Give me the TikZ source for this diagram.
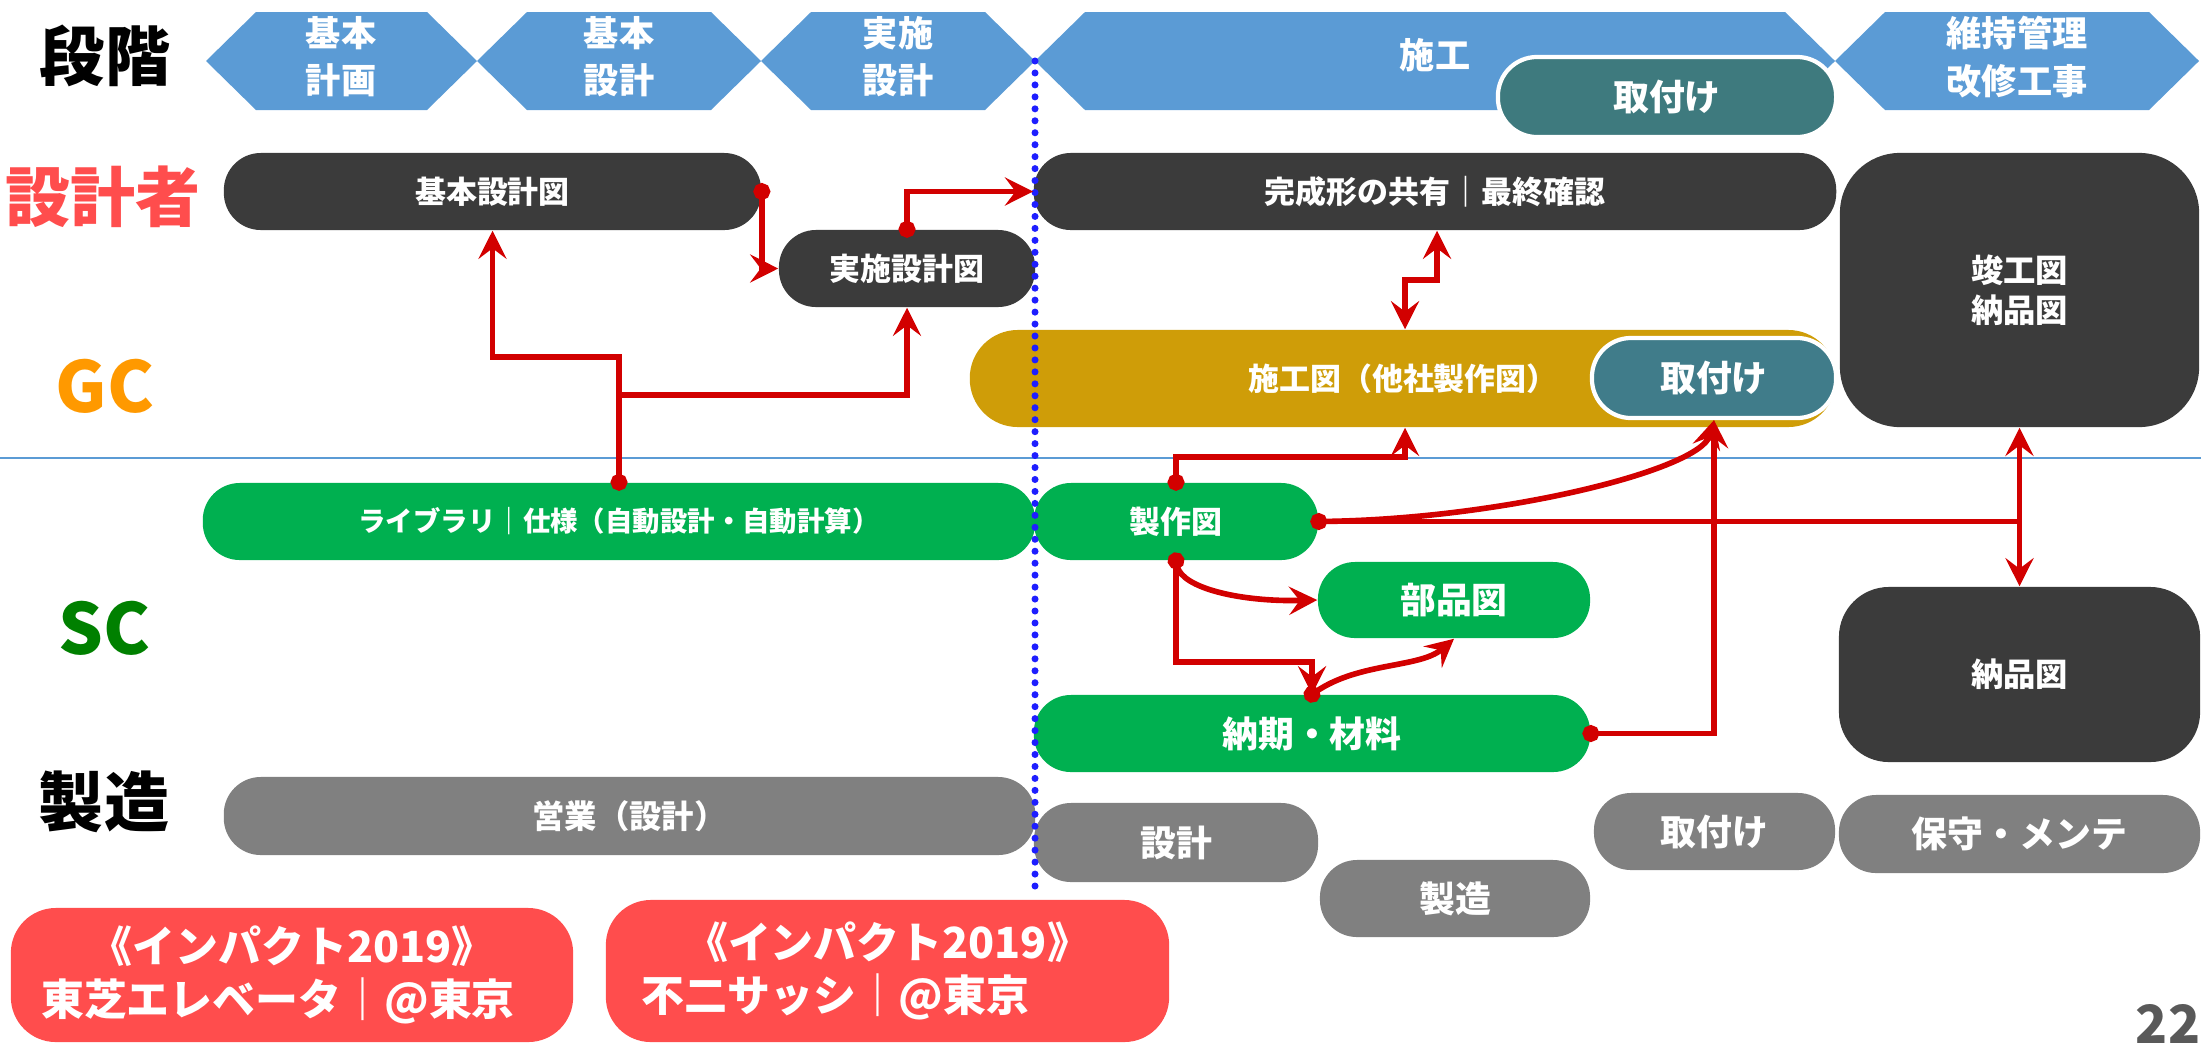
\documentclass[tikz,border=0pt]{standalone}
\usepackage{fontspec}
\setmainfont{Noto Sans CJK JP}
\usetikzlibrary{arrows.meta}

\definecolor{chev}{RGB}{91,155,213}
\definecolor{darkbox}{RGB}{59,59,59}
\definecolor{goldbox}{RGB}{207,157,8}
\definecolor{tealbox}{RGB}{64,124,138}
\definecolor{tealhead}{RGB}{62,122,126}
\definecolor{greenbox}{RGB}{0,176,80}
\definecolor{graybox}{RGB}{128,128,128}
\definecolor{redbox}{RGB}{255,77,77}
\definecolor{linkred}{RGB}{210,0,0}
\definecolor{gcorange}{RGB}{255,153,0}
\definecolor{scgreen}{RGB}{0,128,0}
\definecolor{pagegray}{RGB}{89,89,89}
\definecolor{dotblue}{RGB}{30,30,255}

\newcommand\txtS{\fontsize{8.8pt}{10.5pt}\selectfont\bfseries}
\newcommand\txtL{\fontsize{7.8pt}{9.5pt}\selectfont\bfseries}
\newcommand\txtK{\fontsize{9.2pt}{11.4pt}\selectfont\bfseries}
\newcommand\txtM{\fontsize{10.2pt}{12pt}\selectfont\bfseries}
\newcommand\txtH{\fontsize{10pt}{13.4pt}\selectfont\bfseries}
\newcommand\txtR{\fontsize{12.2pt}{15pt}\selectfont\bfseries}
\newcommand\txtRow{\fontsize{18.5pt}{20pt}\selectfont\bfseries}

\tikzset{
  pill/.style = {rectangle, fill=#1, rounded corners=0.37cm,
                 inner sep=0pt, text=white, align=center, font=\txtS},
  pill/.default = darkbox,
  headtxt/.style = {text=white, align=center, font=\txtH, inner sep=0pt},
  rowtxt/.style = {font=\txtRow, inner sep=0pt},
  conn/.style = {draw=linkred, line width=1.6pt,
                 -{Stealth[length=8pt,width=8pt,inset=3pt]}},
  dconn/.style = {draw=linkred, line width=1.6pt, shorten <=-2.4pt,
                 {Circle[length=4.8pt]}-{Stealth[length=8pt,width=8pt,inset=3pt]}},
  biconn/.style = {draw=linkred, line width=1.6pt,
                 {Stealth[length=8pt,width=8pt,inset=3pt]}-{Stealth[length=8pt,width=8pt,inset=3pt]}},
  dline/.style = {draw=linkred, line width=1.6pt, shorten <=-2.4pt,
                 {Circle[length=4.8pt]}-}
}

\begin{document}
\begin{tikzpicture}[x=0.01cm, y=-0.01cm]
	\def \top{12}
	\def \mid{61}
	\def \bot{110}
	\useasboundingbox (0,0) rectangle (2201,1048);

	% Stages
	\fill[chev] (206,\mid) -- (256,\top) -- (427,\top) -- (477,\mid) -- (427,\bot) -- (256,\bot) -- cycle;
	\fill[chev] (477,\mid) -- (527,\top) -- (711,\top) -- (761,\mid) -- (711,\bot) -- (527,\bot) -- cycle;
	\fill[chev] (761,\mid) -- (811,\top) -- (985,\top) -- (1035,\mid) -- (985,\bot) -- (811,\bot) -- cycle;
	\fill[chev] (1035,\mid) -- (1085,\top) -- (1785,\top) -- (1835,\mid) -- (1785,\bot) -- (1085,\bot) -- cycle;
	\fill[chev] (1835,\mid) -- (1885,\top) -- (2149,\top) -- (2199,\mid) -- (2149,\bot) -- (1885,\bot) -- cycle;

	\node[headtxt] (st1) at (341,57) {基本\\計画};
	\node[headtxt] (st2) at (619,57) {基本\\設計};
	\node[headtxt] (st3) at (898,57) {実施\\設計};
	\node[headtxt] (st4) at (1435,55) {施工};
	\node[headtxt] (st5) at (2017,57) {維持管理\\改修工事};
	\node[pill=tealhead, draw=white, line width=1.2pt, minimum width=3.38cm, minimum height=0.8cm, rounded corners=0.39cm, font=\txtM] (torihead) at (1667,97) {取付け};

	% GC / SC line
	\draw[chev, line width=0.7pt] (0,458) -- (2201,458);

	% Row labels
	\node[rowtxt] (lbstage) at (105,56) {段階};
	\node[rowtxt, text=redbox] (lbdes) at (103,197) {設計者};
	\node[rowtxt, text=gcorange, font=\fontsize{20pt}{22pt}\selectfont\bfseries] (lbgc) at (105,386) {GC};
	\node[rowtxt, text=scgreen, font=\fontsize{20pt}{22pt}\selectfont\bfseries] (lbsc) at (104,628) {SC};
	\node[rowtxt] (lbmfg) at (104,802) {製造};

	% Designer
	\node[pill, minimum width=5.37cm, minimum height=0.77cm] (kihon) at (492.5,191.5) {基本設計図};
	\node[pill, minimum width=2.56cm, minimum height=0.77cm] (jisshi) at (907,268.5) {実施設計図};
	\node[pill, minimum width=8.02cm, minimum height=0.77cm] (kansei) at (1435,191.5) {完成形の共有｜最終確認};
	\node[pill, minimum width=3.59cm, minimum height=2.74cm, rounded corners=0.6cm, font=\txtK] (kanko) at (2019.5,290) {竣工図\\納品図};

	% GC
	\node[pill=goldbox, minimum width=8.66cm, minimum height=0.97cm, rounded corners=0.48cm] (sekou) at (1403,378.5) {施工図（他社製作図）};
	\node[pill=tealbox, draw=white, line width=1.2pt, minimum width=2.44cm, minimum height=0.8cm, rounded corners=0.39cm, font=\txtM] (torigc) at (1714,378) {取付け};

	% SC
	\node[pill=greenbox, minimum width=8.32cm, minimum height=0.77cm, font=\txtL] (lib) at (619,521.5) {ライブラリ｜仕様（自動設計・自動計算）};
	\node[pill=greenbox, minimum width=2.84cm, minimum height=0.77cm] (seisaku) at (1176,521.5) {製作図};
	\node[pill=greenbox, minimum width=2.72cm, minimum height=0.76cm, font=\txtM] (buhin) at (1454,600) {部品図};
	\node[pill=greenbox, minimum width=5.56cm, minimum height=0.77cm, font=\txtM] (nouki) at (1312,733.5) {納期・材料};
	\node[pill, minimum width=3.61cm, minimum height=1.75cm, rounded corners=0.5cm, font=\txtK] (nouhin) at (2019.5,674.5) {納品図};

	% Manufacturer
	\node[pill=graybox, minimum width=8.11cm, minimum height=0.78cm, font=\txtK] (eigyo) at (629.5,816) {営業（設計）};
	\node[pill=graybox, minimum width=2.84cm, minimum height=0.79cm, font=\txtM] (sekkei) at (1176,842.5) {設計};
	\node[pill=graybox, minimum width=2.70cm, minimum height=0.77cm, font=\txtM] (seizo) at (1455,898.5) {製造};
	\node[pill=graybox, minimum width=2.41cm, minimum height=0.77cm, font=\txtM] (torimfg) at (1714.5,831.5) {取付け};
	\node[pill=graybox, minimum width=3.61cm, minimum height=0.78cm, font=\txtM] (hoshu) at (2019.5,834) {保守・メンテ};

	% Impact
	\node[pill=redbox, minimum width=5.62cm, minimum height=1.34cm, rounded corners=0.45cm, font=\txtR] (imp1) at (292,975) {《インパクト2019》\\東芝エレベータ｜@東京\hspace*{0.28cm}};
	\node[pill=redbox, minimum width=5.63cm, minimum height=1.42cm, rounded corners=0.45cm, font=\txtR] (imp2) at (887.5,971) {《インパクト2019》\\不二サッシ｜@東京\hspace*{1.04cm}};

	\node[text=pagegray, font=\fontsize{15pt}{16pt}\selectfont\bfseries, inner sep=0pt] (pgno) at (2168,1024) {22};

	% Construction start
	\draw[dotblue, line width=2pt, line cap=round, dash pattern=on 0pt off 3.4pt] (1035,\mid) -- (1035,895);

	% Links
	\draw[dconn] (kihon.east) |- (jisshi.west);
	\draw[dconn] (jisshi.north) |- (kansei.west);
	\draw[dconn] (lib.north) -- (lib.north |- 0,357) -| (kihon.south);
	\coordinate (libfork) at (lib.north |- 0,395);
	\draw[conn] (libfork) -| (jisshi.south);
	\draw[biconn] (kansei.south -| 1437,0) -- (1437,280) -- (1405,280) -- (sekou.north -| 1405,0);
	\draw[dconn] (seisaku.north) |- (1405,457) -- (sekou.south -| 1405,0);
	\draw[biconn] (kanko.south) -- (nouhin.north);
	\draw[dline] (seisaku.east) -- (seisaku.east -| kanko.south);
	\draw[conn] (seisaku.east) .. controls (1500,520) and (1700,470) .. (torigc.south);
	\draw[dconn] (nouki.east) -| (torigc.south);
	\draw[dconn] (seisaku.south) .. controls (1182,588) and (1240,602) .. (buhin.west);
	\draw[conn] (seisaku.south) |- (nouki.north |- 0,662) -- (nouki.north);
	\draw[dconn] (nouki.north) .. controls (1360,662) and (1420,668) .. (buhin.south);

\end{tikzpicture}
\end{document}
